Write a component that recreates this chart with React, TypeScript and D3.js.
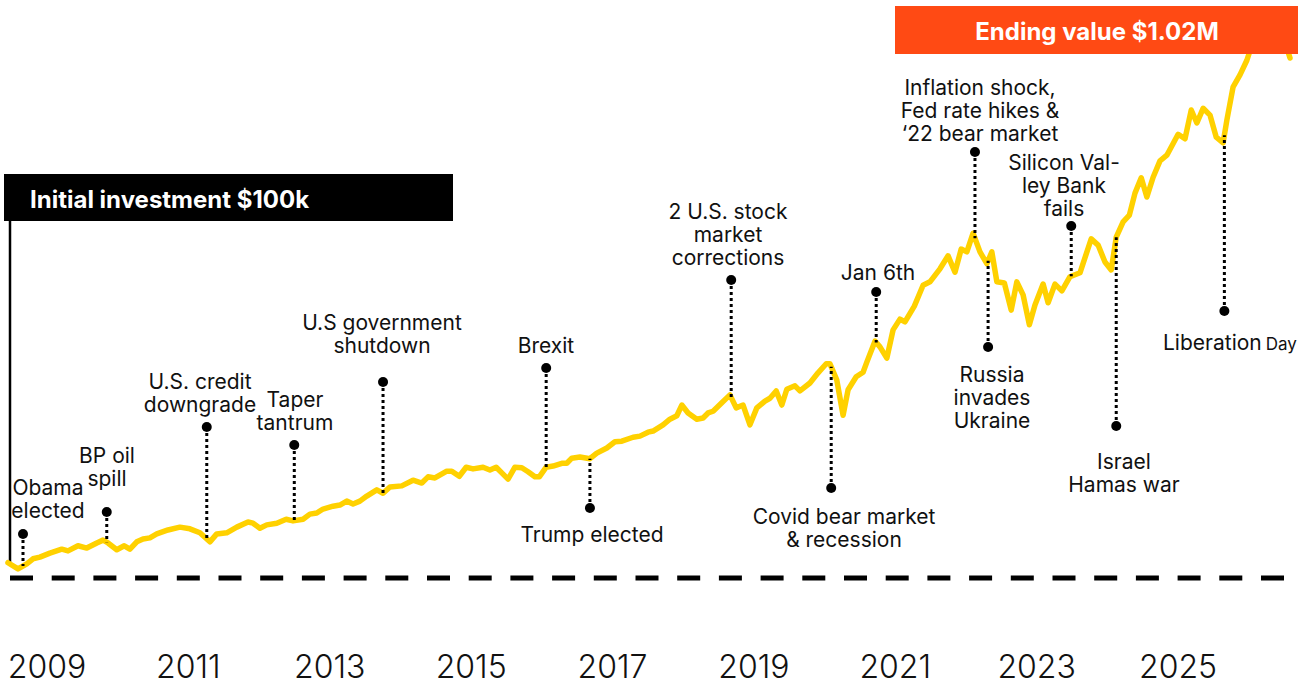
import React from "react";
import * as d3 from "d3";

const W = 1303;
const H = 684;

// months since Jan 2009
const months = [
  0, 1.6, 3.0, 4.0, 5.1, 6.7, 8.6, 9.6, 11.2, 12.6,
  14.2, 15.2, 16.0, 17.4, 18.6, 19.5, 20.6, 21.6, 22.7, 23.8,
  25.6, 27.5, 29.1, 30.7, 32.3, 33.4, 35.0, 36.6, 38.4, 39.2,
  40.3, 41.4, 43.0, 44.5, 45.6, 47.2, 48.3, 49.4, 50.4, 52.0,
  53.1, 54.2, 55.2, 56.3, 57.4, 59.0, 60.0, 61.1, 63.0, 64.8,
  66.2, 67.2, 68.3, 70.2, 71.0, 72.2, 73.3, 74.4, 76.0, 77.1,
  78.1, 79.0, 80.0, 81.1, 82.2, 83.2, 84.3, 85.0, 86.1, 87.2,
  88.6, 89.4, 90.2, 91.5, 93.1, 94.2, 95.8, 97.1, 98.2, 100.0,
  101.1, 102.4, 103.2, 104.8, 105.9, 107.0, 107.8, 108.8, 110.2, 111.2,
  112.0, 112.8, 114.2, 115.5, 116.5, 117.6, 118.7, 119.8, 121.1, 121.9,
  122.9, 123.8, 124.6, 125.9, 126.7, 128.3, 129.6, 130.9, 131.5, 132.6,
  133.6, 134.4, 135.7, 136.8, 137.4, 138.7, 139.5, 140.6, 141.6, 142.7,
  143.5, 145.0, 146.4, 147.5, 149.1, 150.4, 151.5, 152.5, 153.4, 154.4,
  155.5, 156.6, 157.4, 158.2, 159.4, 160.5, 161.4, 162.4, 163.4, 164.3,
  165.6, 166.4, 167.5, 168.6, 169.9, 171.5, 173.3, 174.4, 175.5, 176.5,
  177.3, 178.4, 179.4, 180.3, 181.3, 182.2, 183.2, 184.3, 185.4, 187.2,
  188.3, 189.3, 190.2, 191.2, 192.3, 193.3, 194.4, 195.0, 196.0, 197.1,
  198.2, 199.0, 200.6, 202.7, 204.2, 205.1,
];

// portfolio value, $k
const values = [
  127, 116, 125, 134, 137, 144, 151, 148, 157, 153,
  162, 167, 162, 150, 157, 151, 164, 169, 171, 178,
  185, 190, 187, 180, 164, 178, 180, 190, 199, 197,
  188, 194, 197, 204, 201, 204, 213, 215, 222, 227,
  229, 236, 231, 236, 245, 256, 250, 261, 263, 273,
  268, 279, 277, 289, 289, 280, 296, 293, 296, 291,
  296, 286, 275, 296, 295, 288, 279, 279, 296, 298,
  303, 303, 312, 314, 311, 321, 330, 341, 342, 349,
  351, 358, 360, 371, 381, 387, 406, 392, 381, 383,
  392, 395, 410, 424, 401, 406, 371, 401, 413, 418,
  431, 406, 434, 440, 431, 445, 463, 479, 479, 450,
  388, 433, 456, 464, 482, 519, 509, 489, 539, 558,
  553, 581, 618, 624, 647, 670, 641, 682, 677, 710,
  677, 656, 677, 624, 622, 574, 624, 601, 548, 583,
  620, 587, 620, 608, 633, 640, 700, 689, 659, 645,
  703, 730, 742, 781, 808, 774, 809, 838, 848, 885,
  877, 928, 905, 931, 919, 880, 870, 910, 969, 990,
  1016, 1043, 1066, 1077, 1052, 1020,
];

const initialValue = 100;
const endingValue = 1020;

const yearTicks = [2009, 2011, 2013, 2015, 2017, 2019, 2021, 2023, 2025];

const eventNames = [
  ["Obama", "elected"],
  ["BP oil", "spill"],
  ["U.S. credit", "downgrade"],
  ["Taper", "tantrum"],
  ["U.S government", "shutdown"],
  ["Brexit"],
  ["Trump elected"],
  ["2 U.S. stock", "market", "corrections"],
  ["Covid bear market", "& recession"],
  ["Jan 6th"],
  ["Inflation shock,", "Fed rate hikes &", "\u201822 bear market"],
  ["Russia", "invades", "Ukraine"],
  ["Silicon Val-", "ley Bank", "fails"],
  ["Israel", "Hamas war"],
  ["Liberation", "Day"],
];
const eventMonths = [2.4, 15.8, 31.8, 45.8, 60.0, 86.1, 93.1, 115.7, 131.7, 138.9, 154.7, 156.8, 170.1, 177.3, 194.6];

// layout of annotations (pixels)
const eventLayout = [
  { dotY: 534, lx: 48, ly: 495 },
  { dotY: 512, lx: 107, ly: 463 },
  { dotY: 427, lx: 200, ly: 389 },
  { dotY: 445, lx: 295, ly: 407 },
  { dotY: 382, lx: 382, ly: 330 },
  { dotY: 368, lx: 546, ly: 353 },
  { dotY: 508, lx: 592, ly: 542 },
  { dotY: 280, lx: 728, ly: 219 },
  { dotY: 488, lx: 844, ly: 524 },
  { dotY: 292, lx: 878, ly: 280 },
  { dotY: 152, lx: 980, ly: 95 },
  { dotY: 347, lx: 992, ly: 382 },
  { dotY: 226, lx: 1064, ly: 170 },
  { dotY: 426, lx: 1124, ly: 469 },
  { dotY: 311, lx: 1163, ly: 350, inline: true },
];

const FONT = "Inter, 'Noto Sans', sans-serif";
const YELLOW = "#FFD100";
const ORANGE = "#FF4A14";

const x = d3.scaleLinear().domain([0, 205.1]).range([8, 1290]);
const y = d3.scaleLinear().domain([initialValue, endingValue]).range([578, 58]);
const yearX = d3.scaleLinear().domain([2009, 2025]).range([47, 1178]);

const bis = d3.bisector((d: number) => d).left;
function valueAt(m: number) {
  const i = Math.max(1, Math.min(months.length - 1, bis(months, m)));
  const t = (m - months[i - 1]) / (months[i] - months[i - 1]);
  return values[i - 1] + t * (values[i] - values[i - 1]);
}

export default function App() {
  const pts: [number, number][] = months.map((m, i) => [m, values[i]]);
  const line = d3
    .line<[number, number]>()
    .x((d) => x(d[0]))
    .y((d) => y(d[1]))(pts) as string;

  const lineH = 23;

  return (
    <svg
      width={W}
      height={H}
      style={{ position: "absolute", left: 0, top: 0, background: "#fff" }}
      fontFamily={FONT}
    >
      {/* baseline at initial investment */}
      <line
        x1={10}
        x2={1290}
        y1={y(initialValue)}
        y2={y(initialValue)}
        stroke="#000"
        strokeWidth={5}
        strokeDasharray="23 18.7"
      />
      {/* vertical connector from initial box */}
      <line x1={10} x2={10} y1={221} y2={y(values[0])} stroke="#000" strokeWidth={2.5} />

      <path d={line} fill="none" stroke={YELLOW} strokeWidth={5.5} strokeLinejoin="round" strokeLinecap="round" />

      {eventMonths.map((m, i) => {
        const L = eventLayout[i];
        const ex = x(m);
        const ly = y(valueAt(m));
        return (
          <g key={i}>
            <line x1={ex} x2={ex} y1={L.dotY} y2={ly} stroke="#000" strokeWidth={3} strokeDasharray="3 3" />
            <circle cx={ex} cy={L.dotY} r={5} fill="#000" />
            {L.inline ? (
              <text x={L.lx} y={L.ly} fontSize={21} fill="#111">
                {eventNames[i][0]}
                <tspan fontSize={17} dx={4}>
                  {eventNames[i][1]}
                </tspan>
              </text>
            ) : (
              <text x={L.lx} y={L.ly} fontSize={21} fill="#111" textAnchor="middle">
                {eventNames[i].map((s, j) => (
                  <tspan key={j} x={L.lx} dy={j === 0 ? 0 : lineH}>
                    {s}
                  </tspan>
                ))}
              </text>
            )}
          </g>
        );
      })}

      {/* year labels */}
      {yearTicks.map((yr) => (
        <text key={yr} x={yearX(yr)} y={678} fontSize={32} fontWeight={300} textAnchor="middle" fill="#111">
          {yr}
        </text>
      ))}

      {/* initial investment box */}
      <rect x={4} y={174} width={449} height={47} fill="#000" />
      <text x={30} y={208} fontSize={24} fontWeight={700} fill="#fff">
        Initial investment ${initialValue}k
      </text>

      {/* ending value box */}
      <rect x={895} y={6} width={403} height={48} fill={ORANGE} />
      <text x={1097} y={40} fontSize={24} fontWeight={700} fill="#fff" textAnchor="middle">
        Ending value ${(endingValue / 1000).toFixed(2)}M
      </text>
    </svg>
  );
}
